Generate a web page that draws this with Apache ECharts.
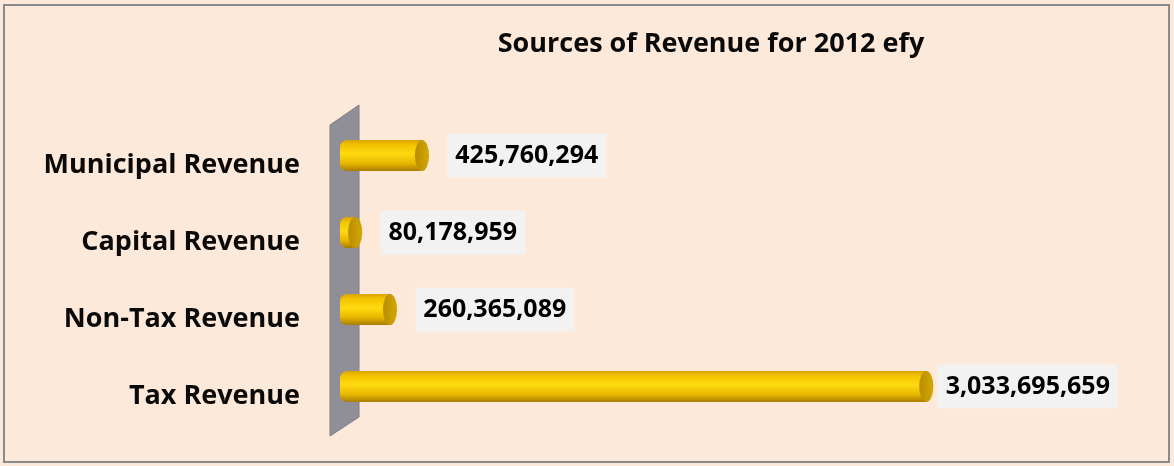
<!DOCTYPE html>
<html>
<head>
<meta charset="utf-8">
<script src="https://cdn.jsdelivr.net/npm/echarts@6/dist/echarts.min.js"></script>
<style>
  html, body { margin: 0; padding: 0; background: #ffffff; }
  #chart { width: 1174px; height: 466px; }
</style>
</head>
<body>
<div id="chart"></div>
<script>
// data
const categories = ['Municipal Revenue', 'Capital Revenue', 'Non-Tax Revenue', 'Tax Revenue']
const revenue = [425760294, 80178959, 260365089, 3033695659]

const chart = echarts.init(document.getElementById('chart'))

// cylinder body: dark top edge, bright middle, darker bottom
const bodyColor = new echarts.graphic.LinearGradient(0, 0, 0, 1, [
  { offset: 0, color: '#D9A400' },
  { offset: 0.15, color: '#F2C200' },
  { offset: 0.45, color: '#FFDA10' },
  { offset: 0.75, color: '#E8B800' },
  { offset: 1, color: '#A87C00' }
])

// the longest bar keeps its label closer to the cap
const barData = revenue.map((v, i) =>
  i === revenue.length - 1 ? { value: v, label: { distance: 11 } } : v)

chart.setOption({
  backgroundColor: '#FDE9D9',
  title: {
    text: 'Sources of Revenue for 2012 efy',
    left: 706,
    top: 26,
    textAlign: 'center',
    textStyle: { fontFamily: 'Open Sans', fontWeight: 'bold', fontSize: 27, color: '#0a0a0a' }
  },
  graphic: [
    {
      type: 'rect',
      shape: { x: 4, y: 5, width: 1165, height: 457 },
      style: { fill: 'none', stroke: '#8A8A8A', lineWidth: 2 },
      z: -1
    },
    {
      // gray back wall behind the bars
      type: 'polygon',
      shape: { points: [[330, 125], [359, 105], [359, 417], [330, 436]] },
      style: { fill: '#908E96', stroke: '#7E7C84', lineWidth: 1 },
      z: 0
    }
  ],
  grid: { left: 340, top: 117, width: 700, height: 308 },
  xAxis: {
    type: 'value',
    min: 0,
    max: 3620000000,
    show: false
  },
  yAxis: {
    type: 'category',
    data: categories,
    inverse: true,
    axisLine: { show: false },
    axisTick: { show: false },
    axisLabel: {
      margin: 40,
      verticalAlign: 'top',
      lineHeight: 20,
      fontFamily: 'Open Sans',
      fontWeight: 'bold',
      fontSize: 27,
      color: '#0a0a0a'
    }
  },
  series: [
    {
      type: 'bar',
      data: barData,
      barWidth: 31,
      z: 3,
      itemStyle: { color: bodyColor, borderRadius: [7, 0, 0, 7] },
      label: {
        show: true,
        position: 'right',
        distance: 25,
        formatter: p => p.value.toLocaleString('en-US'),
        fontFamily: 'Open Sans',
        fontWeight: 'bold',
        fontSize: 25,
        color: '#000',
        backgroundColor: '#F2F2F2',
        padding: [10, 8, 9, 8]
      }
    },
    {
      // end cap of each cylinder
      type: 'pictorialBar',
      data: revenue,
      symbol: 'circle',
      symbolSize: [14, 31],
      symbolPosition: 'end',
      symbolOffset: ['50%', 0],
      z: 4,
      itemStyle: {
        color: new echarts.graphic.LinearGradient(0, 0, 1, 0, [
          { offset: 0, color: '#B88C00' },
          { offset: 1, color: '#D4A800' }
        ]),
        borderColor: '#A07800',
        borderWidth: 1
      }
    }
  ]
})
</script>
</body>
</html>
